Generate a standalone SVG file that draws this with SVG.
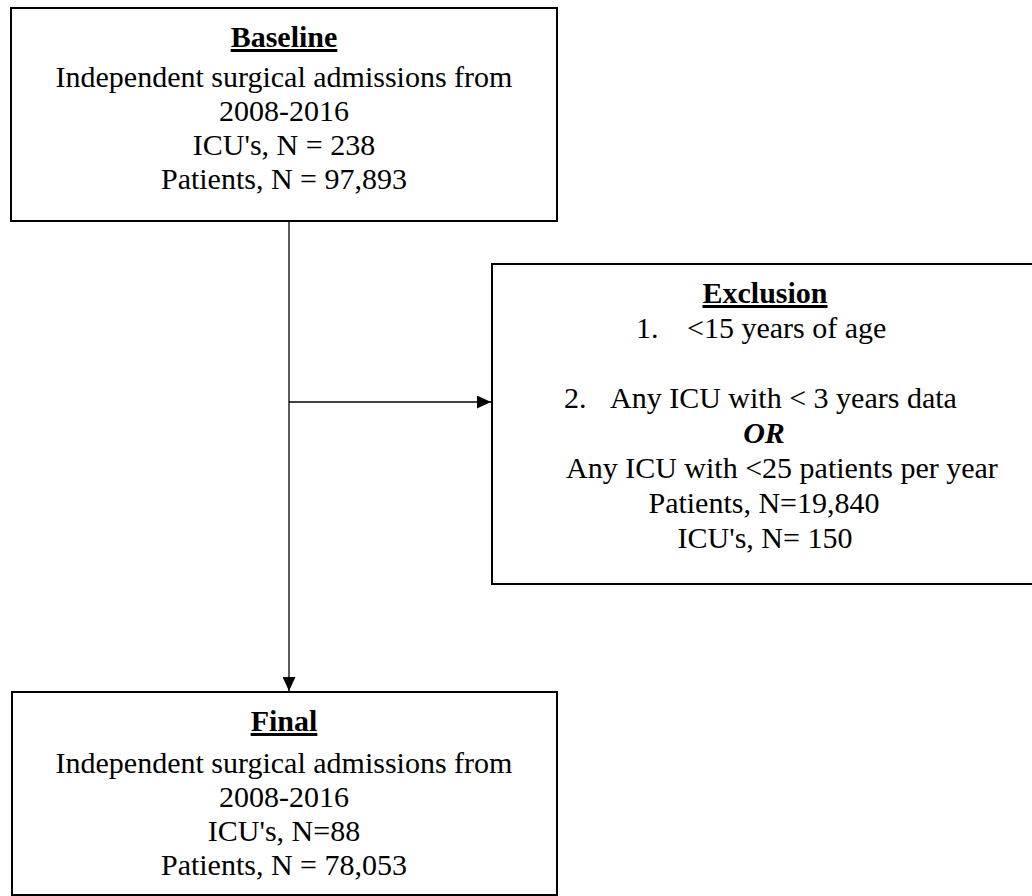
<svg xmlns="http://www.w3.org/2000/svg" width="1032" height="896" viewBox="0 0 1032 896">
<style>
.box{fill:#fff;stroke:#000;stroke-width:2}
.t{font-family:"Liberation Serif","Times New Roman",serif;font-size:30px;fill:#000}
.c{text-anchor:middle}
.h{font-weight:bold;text-decoration:underline}
.conn{stroke:#000;stroke-width:1.3;fill:none}
</style>
<defs>
<marker id="arr" viewBox="0 0 14 13" refX="14" refY="6.5" markerWidth="14" markerHeight="13" markerUnits="userSpaceOnUse" orient="auto">
<path d="M0,0 L14,6.5 L0,13 Z" fill="#000"/>
</marker>
</defs>
<rect width="1032" height="896" fill="#fff"/>
<g id="connectors">
<line class="conn" x1="289" y1="221" x2="289" y2="691" marker-end="url(#arr)" stroke="#333"/>
<line class="conn" x1="289" y1="402" x2="491" y2="402" marker-end="url(#arr)"/>
</g>
<g id="baseline">
<rect class="box" x="11" y="8" width="546" height="213"/>
<text class="t c h" x="284" y="47">Baseline</text>
<text class="t c" x="284" y="87">Independent surgical admissions from</text>
<text class="t c" x="284" y="121">2008-2016</text>
<text class="t c" x="284" y="155">ICU's, N = 238</text>
<text class="t c" x="284" y="189">Patients, N = 97,893</text>
</g>
<g id="exclusion">
<rect class="box" x="492" y="264" width="545" height="320"/>
<text class="t c h" x="765" y="303">Exclusion</text>
<text class="t" x="636" y="338">1.</text>
<text class="t" x="687" y="338">&lt;15 years of age</text>
<text class="t" x="564" y="408">2.</text>
<text class="t" x="610" y="408">Any ICU with &lt; 3 years data</text>
<text class="t c" x="764" y="443" font-weight="bold" font-style="italic">OR</text>
<text class="t" x="566" y="478">Any ICU with &lt;25 patients per year</text>
<text class="t c" x="764" y="513">Patients, N=19,840</text>
<text class="t c" x="765" y="548">ICU's, N= 150</text>
</g>
<g id="final">
<rect class="box" x="12" y="692" width="545" height="203"/>
<text class="t c h" x="284" y="731">Final</text>
<text class="t c" x="284" y="773">Independent surgical admissions from</text>
<text class="t c" x="284" y="807">2008-2016</text>
<text class="t c" x="284" y="841">ICU's, N=88</text>
<text class="t c" x="284" y="875">Patients, N = 78,053</text>
</g>
</svg>
